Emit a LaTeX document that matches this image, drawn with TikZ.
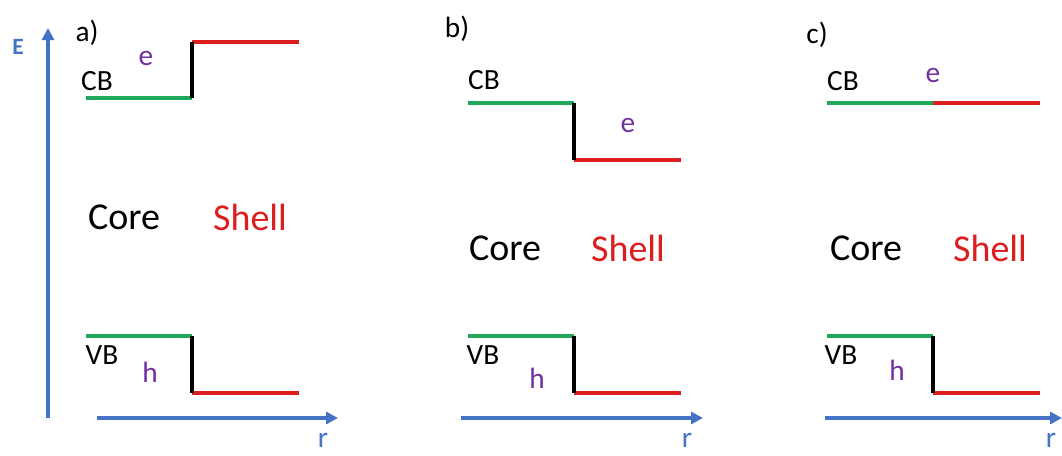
\documentclass[tikz,border=0pt]{standalone}
\usepackage{fontspec}
\setmainfont{Carlito}
\usetikzlibrary{positioning, calc, arrows.meta}
\definecolor{axisblue}{HTML}{4472C4}
\definecolor{bandgreen}{HTML}{1FA85A}
\definecolor{shellred}{HTML}{DC1E1E}
\definecolor{carrier}{HTML}{7030A0}

\begin{document}
\begin{tikzpicture}[
  x=0.75pt, y=-0.75pt,
  band/.style={line width=2.4pt},
  axis/.style={axisblue, line width=3pt, -{Triangle[length=9pt,width=9pt]}},
  tag/.style={inner sep=0pt, font=\fontsize{22}{24}\selectfont},
  big/.style={inner sep=0pt, font=\fontsize{28.5}{32}\selectfont},
]
\useasboundingbox (0,0) rectangle (1062,455);

% ---- band edge corners per panel (x shift, CB left level, CB right level) ----
\foreach \p/\dx/\cl/\cr in {a/0/98/42, b/382/103/160, c/741/103/103} {
  \coordinate (\p CL) at (86+\dx, \cl);
  \coordinate (\p CM) at (192+\dx, \cl);
  \coordinate (\p CN) at (192+\dx, \cr);
  \coordinate (\p CR) at (299+\dx, \cr);
  \coordinate (\p VL) at (86+\dx, 336);
  \coordinate (\p VM) at (192+\dx, 336);
  \coordinate (\p VN) at (192+\dx, 393);
  \coordinate (\p VR) at (299+\dx, 393);
}

% ---- band edges (core green, shell red, step black) ----
\foreach \p in {a, b, c} {
  \draw[band, bandgreen] (\p CL) -- (\p CM);
  \draw[band, shellred] (\p CN) -- (\p CR);
  \draw[band] (\p CM) -- (\p CN);
  \draw[band, bandgreen] (\p VL) -- (\p VM);
  \draw[band, shellred] (\p VN) -- (\p VR);
  \draw[band] (\p VM) -- (\p VN);
}

% ---- axes ----
\coordinate (E0) at (48,418);
\coordinate (E1) at (48,28);
\draw[axis] (E0) -- (E1);
\node[inner sep=0pt, axisblue, font=\bfseries\fontsize{17.5}{19}\selectfont] (Elabel) at (18,47) {E};

\foreach \p/\xs/\xe/\xr in {a/97/338/323, b/461/703/687, c/825/1062/1051} {
  \coordinate (\p r0) at (\xs,418);
  \coordinate (\p r1) at (\xe,418);
  \draw[axis] (\p r0) -- (\p r1);
  \node[tag, axisblue] (\p rlabel) at (\xr,440) {r};
}

% ---- panel tags ----
\node[tag] (atag) at (87,33) {a)};
\node[tag] (btag) at (457,29) {b)};
\node[tag] (ctag) at (817,35) {c)};

% ---- CB / VB ----
\node[tag] (aCB) at (97,81) {CB};
\node[tag] (bCB) at (484,80) {CB};
\node[tag] (cCB) at (843,81) {CB};
\node[tag] (aVB) at (102,355) {VB};
\node[tag] (bVB) at (483,355) {VB};
\node[tag] (cVB) at (841,355) {VB};

% ---- carriers ----
\node[tag, carrier] (ae) at (146,58) {e};
\node[tag, carrier] (be) at (628,125) {e};
\node[tag, carrier] (ce) at (933,75) {e};
\node[tag, carrier] (ah) at (150,372) {h};
\node[tag, carrier] (bh) at (537,378) {h};
\node[tag, carrier] (ch) at (897,370) {h};

% ---- core / shell ----
\foreach \p/\xc/\xs/\yy in {a/124/250/217, b/505/628/248, c/866/990/248} {
  \node[big] (\p core) at (\xc,\yy) {Core};
  \node[big, shellred] (\p shell) at (\xs,\yy) {Shell};
}

\end{tikzpicture}
\end{document}
